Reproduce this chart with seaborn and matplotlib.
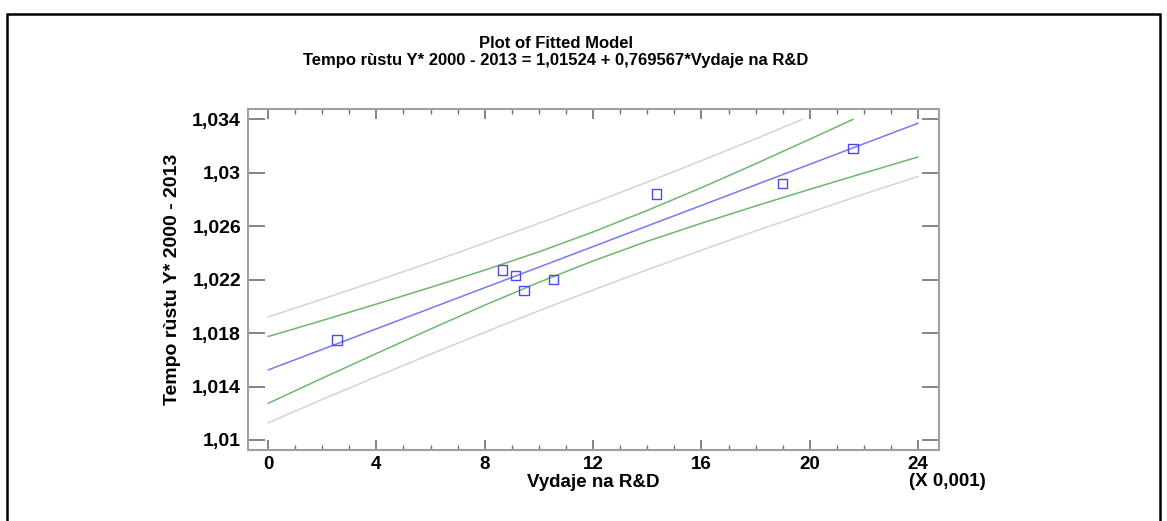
import matplotlib
matplotlib.use("Agg")
import matplotlib.pyplot as plt
import seaborn as sns
from matplotlib.ticker import MultipleLocator, FixedLocator, FuncFormatter
from matplotlib.patches import Rectangle

# observed data (x in units of 0.001)
obs_x = [2.55, 8.66, 9.14, 9.45, 10.53, 14.33, 19.0, 21.6]
obs_y = [1.01748, 1.02273, 1.02232, 1.02118, 1.0220, 1.02842, 1.02917, 1.0318]

# fitted line
fit_x = [0, 24]
fit_y = [1.01524, 1.03371]

# bands
band_x = [0, 2, 4, 6, 8, 10, 12, 14, 16, 18, 20, 22, 24]
ci_upper_x = [0, 2, 4, 6, 8, 10, 12, 14, 16, 18, 20, 21.6]
ci_upper = [1.01774, 1.01894, 1.02017, 1.02142, 1.02271, 1.02408, 1.02557,
            1.02718, 1.02888, 1.03067, 1.03251, 1.034]
ci_lower = [1.01274, 1.01462, 1.01647, 1.01830, 1.02009, 1.02180, 1.02340,
            1.02487, 1.02622, 1.02751, 1.02876, 1.02998, 1.03118]
pi_upper_x = [0, 2, 4, 6, 8, 10, 12, 14, 16, 18, 19.73]
pi_upper = [1.01920, 1.02054, 1.02190, 1.02330, 1.02474, 1.02622, 1.02774,
            1.02930, 1.03090, 1.03254, 1.034]
pi_lower = [1.01128, 1.01303, 1.01474, 1.01642, 1.01806, 1.01967, 1.02123,
            1.02274, 1.02420, 1.02564, 1.02703, 1.02840, 1.02973]

y_ticks = [1.01, 1.014, 1.018, 1.022, 1.026, 1.03, 1.034]
title_lines = ["Plot of Fitted Model",
               "Tempo rùstu Y* 2000 - 2013 = 1,01524 + 0,769567*Vydaje na R&D"]
x_label = "Vydaje na R&D"
y_label = "Tempo rùstu Y* 2000 - 2013"
x_scale_note = "(X 0,001)"

sns.set_style("white")
plt.rcParams['font.family'] = ['Liberation Sans', 'DejaVu Sans']
plt.rcParams['font.weight'] = 'bold'
plt.rcParams['text.color'] = 'black'
plt.rcParams['axes.labelcolor'] = 'black'
plt.rcParams['xtick.color'] = 'black'
plt.rcParams['ytick.color'] = 'black'

fig = plt.figure(figsize=(11.67, 5.21), dpi=100)
ax = fig.add_axes([248/1167, 71/521, (939-248)/1167, (450-109)/521])

gray = "#d4d4d4"
green = "#6cb86c"
blue = "#7878f5"

sns.lineplot(x=pi_upper_x, y=pi_upper, ax=ax, color=gray, lw=1.1, sort=False, estimator=None)
sns.lineplot(x=band_x, y=pi_lower, ax=ax, color=gray, lw=1.1, sort=False, estimator=None)
sns.lineplot(x=ci_upper_x, y=ci_upper, ax=ax, color=green, lw=1.1, sort=False, estimator=None)
sns.lineplot(x=band_x, y=ci_lower, ax=ax, color=green, lw=1.1, sort=False, estimator=None)
sns.lineplot(x=fit_x, y=fit_y, ax=ax, color=blue, lw=1.1, sort=False, estimator=None)
sns.scatterplot(x=obs_x, y=obs_y, ax=ax, marker="s", s=45, facecolor="none",
                edgecolor="#4a4af0", linewidth=1.0, zorder=5)

ax.set_xlim(-0.74, 24.77)
ax.set_ylim(1.00925, 1.03477)
ax.xaxis.set_major_locator(MultipleLocator(4))
ax.xaxis.set_minor_locator(MultipleLocator(1))
ax.yaxis.set_major_locator(FixedLocator(y_ticks))
ax.xaxis.set_major_formatter(FuncFormatter(lambda v, p: f"{v:g}"))
ax.yaxis.set_major_formatter(FuncFormatter(lambda v, p: f"{round(v, 4):g}".replace(".", ",")))

for s in ax.spines.values():
    s.set_color("#a0a0a0")
    s.set_linewidth(1.5)

ax.tick_params(axis="both", which="both", direction="in", top=True, right=True,
               bottom=True, left=True, color="#707070", labelcolor="black")
ax.tick_params(axis="x", which="major", length=7, width=1.2, pad=4, labelsize=13.5)
ax.tick_params(axis="x", which="minor", length=3.5, width=1.0)
ax.tick_params(axis="y", which="major", length=12, width=1.2, pad=5, labelsize=14)
for lab in ax.get_xticklabels() + ax.get_yticklabels():
    lab.set_fontweight("bold")

ax.set_xlabel(x_label, fontsize=13.5, fontweight="bold", labelpad=1, color="black")
ax.set_ylabel(y_label, fontsize=14, fontweight="bold", labelpad=8, color="black")
ax.text(1.0116, -0.093, x_scale_note, transform=ax.transAxes, ha="center",
        va="center", fontsize=13.5, fontweight="bold", color="black")

fig.text(556/1167, 1 - 43/521, title_lines[0], ha="center", va="center",
         fontsize=12, fontweight="bold", color="black")
fig.text(556/1167, 1 - 60/521, title_lines[1], ha="center", va="center",
         fontsize=12, fontweight="bold", color="black")

# outer frame
fig.patches.append(Rectangle((7/1167, -0.05), (1160-7)/1167, 1.05 - 14/521,
                             transform=fig.transFigure, fill=False,
                             edgecolor="black", linewidth=1.8))

fig.savefig("out.png", dpi=100)
